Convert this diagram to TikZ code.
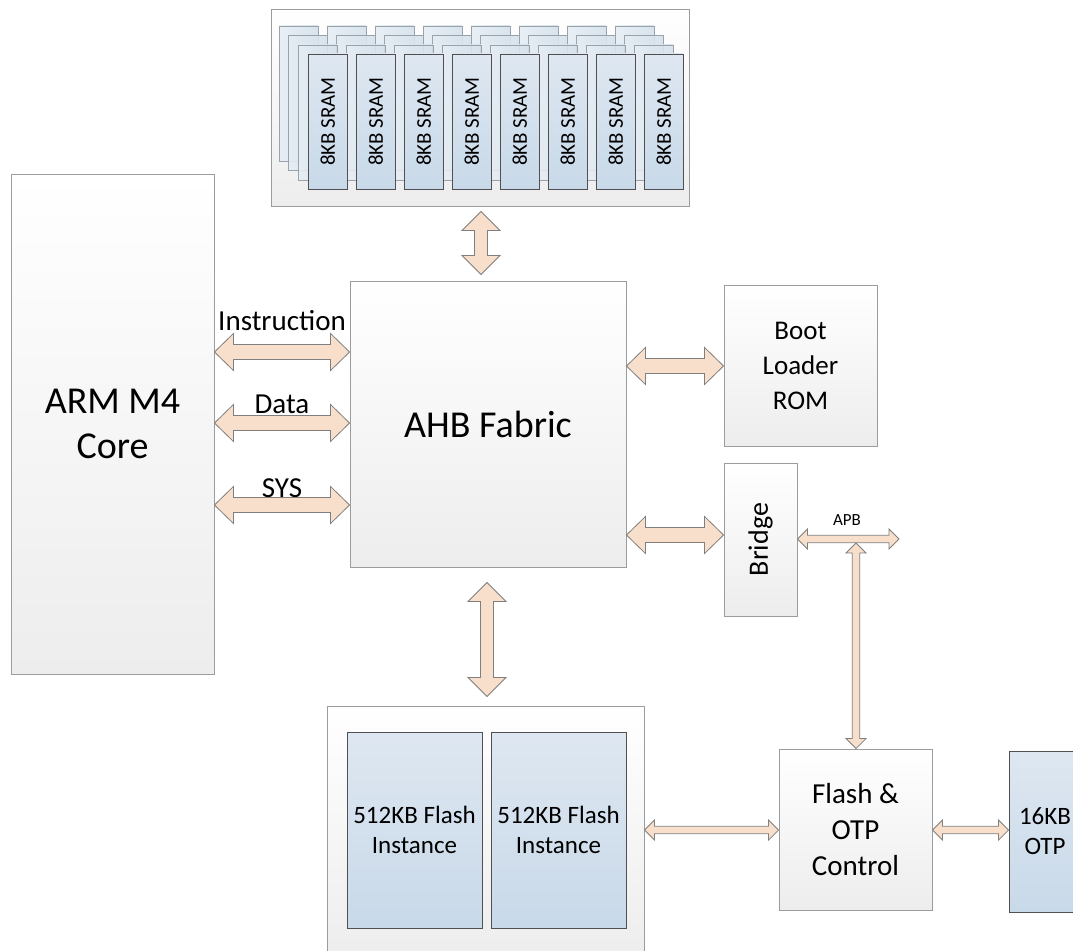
\documentclass[tikz,border=0pt]{standalone}
\usepackage{fontspec}
\setmainfont{Carlito}
\usetikzlibrary{calc}
\definecolor{boxline}{HTML}{9C9C9C}
\definecolor{boxbot}{HTML}{EDEDED}
\definecolor{bluetop}{HTML}{DEE7F1}
\definecolor{bluebot}{HTML}{C8D9E9}
\definecolor{blueline}{HTML}{505050}
\definecolor{backline}{HTML}{9AA2AA}
\definecolor{backleft}{HTML}{E6EDF4}
\definecolor{backright}{HTML}{D3E0EC}
\definecolor{arrowfill}{HTML}{F8DFCB}
\definecolor{arrowline}{HTML}{7F7F7F}
\tikzset{
  gbox/.style 2 args={draw=boxline, line width=0.9pt, top color=white, bottom color=boxbot,
    inner sep=0pt, minimum width=#1, minimum height=#2, align=center},
  bbox/.style 2 args={draw=blueline, line width=0.9pt, top color=bluetop, bottom color=bluebot,
    inner sep=0pt, minimum width=#1, minimum height=#2, align=center},
  sramback/.style={draw=backline, line width=0.8pt, left color=backleft, right color=backright,
    fill opacity=0.88, inner sep=0pt, minimum width=39pt, minimum height=135pt},
  sramfront/.style={bbox={39pt}{135pt}, font=\fontsize{21}{25}\selectfont},
  arr/.style={fill=arrowfill, draw=arrowline, line width=0.8pt, line join=miter},
  hbar/.style n args={3}{to path={let \p1=(\tikztostart), \p2=(\tikztotarget) in
    (\x1,\y1) -- (\x1+#3,\y1+#1) -- (\x1+#3,\y1+#2) -- (\x2-#3,\y1+#2) -- (\x2-#3,\y1+#1) -- (\x2,\y1)
    -- (\x2-#3,\y1-#1) -- (\x2-#3,\y1-#2) -- (\x1+#3,\y1-#2) -- (\x1+#3,\y1-#1) -- cycle}},
  vbar/.style n args={3}{to path={let \p1=(\tikztostart), \p2=(\tikztotarget) in
    (\x1,\y1) -- (\x1+#1,\y1-#3) -- (\x1+#2,\y1-#3) -- (\x1+#2,\y2+#3) -- (\x1+#1,\y2+#3) -- (\x1,\y2)
    -- (\x1-#1,\y2+#3) -- (\x1-#2,\y2+#3) -- (\x1-#2,\y1-#3) -- (\x1-#1,\y1-#3) -- cycle}},
  thick arrow/.style={arr, hbar={18.5pt}{7.5pt}{19pt}},
  thick varrow/.style={arr, vbar={19pt}{6.5pt}{19pt}},
  thin arrow/.style={arr, hbar={10pt}{3.7pt}{10pt}},
  thin varrow/.style={arr, vbar={10pt}{3.7pt}{10pt}},
  lbl/.style={inner sep=0pt, anchor=base, font=\fontsize{29}{34}\selectfont},
}
\begin{document}
\begin{tikzpicture}[x=1pt, y=-1pt]
\useasboundingbox (0,0) rectangle (1073,950);
\fill[white] (0,0) rectangle (1073,950);
\clip (0,0) rectangle (1073,950);

% SRAM array
\node[gbox={418pt}{197pt}] (sram) at (480,107.5) {};
\foreach \l in {0,1,2}{
  \foreach \i in {0,...,7}{
    \node[sramback] (sb\i\l) at ({298.5+48*\i+9.7*\l},{93.5+9.5*\l}) {};
  }
}
\foreach \i in {0,...,7}{
  \node[sramfront] (sf\i) at ({327.8+48*\i},121.5) {\rotatebox{90}{8KB SRAM}};
}

% main blocks
\node[gbox={203pt}{500pt}, font=\fontsize{38}{45}\selectfont] (core) at (112.5,424) {ARM M4\\Core};
\node[gbox={276pt}{286pt}, font=\fontsize{38}{45}\selectfont] (ahb) at (488,424) {AHB Fabric};
\node[gbox={153pt}{161pt}, font=\fontsize{27}{35}\selectfont] (boot) at (800.5,365.5) {Boot\\Loader\\ROM};
\node[gbox={73pt}{153pt}, font=\fontsize{28}{34}\selectfont] (bridge) at (760.5,539.5) {\rotatebox{90}{Bridge}};
\node[gbox={317pt}{254pt}] (flash) at (485.5,833) {};
\node[bbox={135pt}{196pt}, font=\fontsize{25}{29.5}\selectfont] (fl1) at (414.5,830) {512KB Flash\\Instance};
\node[bbox={135pt}{196pt}, font=\fontsize{25}{29.5}\selectfont] (fl2) at (558.5,830) {512KB Flash\\Instance};
\node[gbox={153pt}{161pt}, font=\fontsize{29}{36}\selectfont] (ctrl) at (855.5,829.5) {Flash \&\\OTP\\Control};
\node[bbox={72pt}{161pt}, font=\fontsize{25}{30}\selectfont] (otp) at (1045,831.5) {16KB\\OTP};

% labels
\node[lbl] (linstr) at (282,330) {Instruction};
\node[lbl] (ldata) at (282,413) {Data};
\node[lbl] (lsys) at (282,497) {SYS};
\node[inner sep=0pt, font=\fontsize{17}{20}\selectfont] (lapb) at (847,520) {APB};

% free ends
\coordinate (apbend) at (899,539);
\coordinate (apbtap) at (856,543);

% connectors
\filldraw[thick arrow] (core.east |- 0,352) to (ahb.west |- 0,352);
\filldraw[thick arrow] (core.east |- 0,423) to (ahb.west |- 0,423);
\filldraw[thick arrow] (core.east |- 0,505) to (ahb.west |- 0,505);
\filldraw[thick arrow] (ahb.east |- 0,366) to (boot.west |- 0,366);
\filldraw[thick arrow] (ahb.east |- 0,535) to (bridge.west |- 0,535);
\filldraw[thick varrow] ($(sram.south -| 481,0)+(0,5)$) to ($(ahb.north -| 481,0)+(0,-6)$);
\filldraw[thick varrow] ($(ahb.south -| 487,0)+(0,15)$) to ($(flash.north -| 487,0)+(0,-9)$);
\filldraw[thin arrow] (flash.east |- 0,830) to (ctrl.west |- 0,830);
\filldraw[thin arrow] (ctrl.east |- 0,830) to (otp.west |- 0,830);
\filldraw[thin arrow] (bridge.east |- apbend) to (apbend);
\filldraw[thin varrow] (apbtap) to (ctrl.north -| apbtap);
\end{tikzpicture}
\end{document}
